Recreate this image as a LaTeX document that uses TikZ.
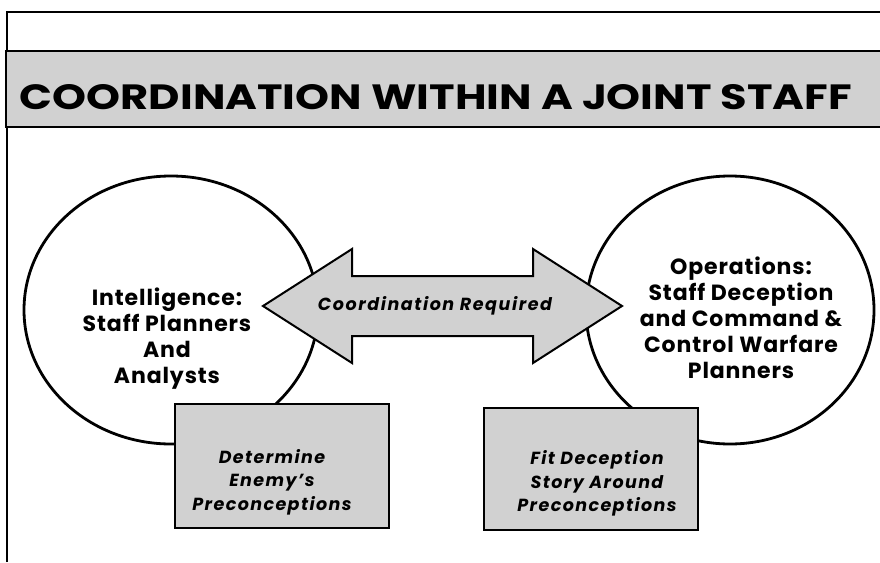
\documentclass[tikz,border=0pt]{standalone}
\usepackage{fontspec}
\setmainfont{Poppins}
\usetikzlibrary{shapes.geometric}
\definecolor{stipple}{gray}{0.82}
\begin{document}
\begin{tikzpicture}[x=1pt,y=-1pt,
  frameline/.style={line width=1.5pt,black},
  titlebox/.style={draw,line width=1.8pt,fill=stipple,rectangle,inner sep=0pt},
  circ/.style={draw,line width=2.8pt,fill=white,ellipse,inner sep=0pt},
  gbox/.style={draw,line width=2pt,fill=stipple,rectangle,inner sep=0pt},
  arrowsty/.style={draw,line width=2pt,fill=stipple,line join=miter},
  circtext/.style={align=center,inner sep=0pt,font=\bfseries\addfontfeatures{LetterSpace=4}\fontsize{22}{26}\selectfont},
  boxtext/.style={align=center,inner sep=0pt,font=\bfseries\itshape\addfontfeatures{LetterSpace=8}\fontsize{17.5}{23.5}\selectfont},
  arrtext/.style={inner sep=0pt,font=\bfseries\itshape\addfontfeatures{LetterSpace=9}\fontsize{17.5}{20}\selectfont}
]
\useasboundingbox (0,0) rectangle (880,562);
\fill[white] (0,0) rectangle (880,562);
% outer frame
\draw[frameline] (7,562) -- (7,12) -- (881,12);
% title
\node[titlebox,minimum width=876pt,minimum height=76pt,anchor=north west] (title) at (5,50) {};
\node[inner sep=0pt] (titletext) at (436,97) {\resizebox{832pt}{25pt}{\bfseries COORDINATION WITHIN A JOINT STAFF}};
% circles
\node[circ,minimum width=294pt,minimum height=268pt] (intel) at (171,310) {};
\node[circ,minimum width=288pt,minimum height=268pt] (ops) at (730,310) {};
% double arrow
\draw[arrowsty] (263,306) -- (352,249) -- (352,276) -- (533,276) -- (533,249) -- (622,306)
  -- (533,363) -- (533,336) -- (352,336) -- (352,363) -- cycle;
\node[arrtext] (coord) at (435,306) {Coordination Required};
% circle texts
\node[circtext] (inteltext) at (167,339) {Intelligence:\\Staff Planners\\And\\Analysts};
\node[circtext] (opstext) at (741,318) {Operations:\\Staff Deception\\and Command \&\\Control Warfare\\Planners};
% boxes
\node[gbox,minimum width=214pt,minimum height=124pt] (det) at (282,466) {};
\node[boxtext] (dettext) at (272,482) {Determine\\Enemy's\\Preconceptions};
\node[gbox,minimum width=214pt,minimum height=122pt] (fit) at (591,469) {};
\node[boxtext] (fittext) at (597,483.5) {Fit Deception\\Story Around\\Preconceptions};
\end{tikzpicture}
\end{document}
